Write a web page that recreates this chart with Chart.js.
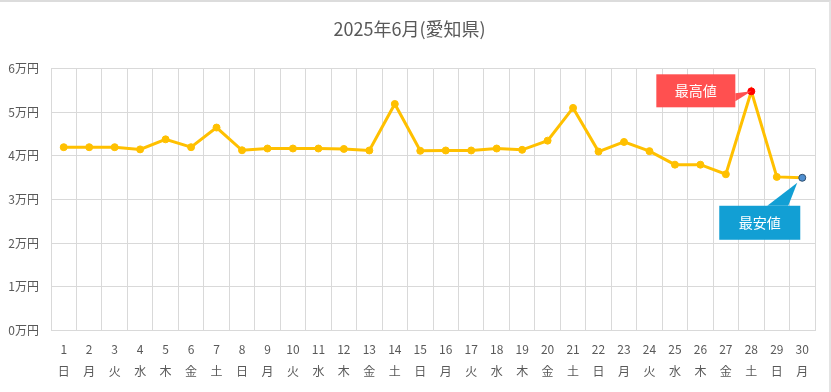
<!DOCTYPE html>
<html>
<head>
<meta charset="utf-8">
<script src="https://cdn.jsdelivr.net/npm/chart.js@4.4.1/dist/chart.umd.min.js"></script>
<style>
  html, body { margin: 0; padding: 0; background: #fff; }
  #wrap { position: relative; width: 831px; height: 392px; box-sizing: border-box; border-top: 2px solid #dcdcdc; border-right: 2px solid #e4e4e4; }
  canvas { display: block; }
</style>
</head>
<body>
<div id="wrap"><canvas id="priceChart" width="829" height="390"></canvas></div>
<script>
// 6月の日付・曜日・価格
const days = [1,2,3,4,5,6,7,8,9,10,11,12,13,14,15,16,17,18,19,20,21,22,23,24,25,26,27,28,29,30]
const weekdays = ["日","月","火","水","木","金","土","日","月","火","水","木","金","土","日","月","火","水","木","金","土","日","月","火","水","木","金","土","日","月"]
const prices = [42000,42000,42000,41500,43800,42000,46500,41300,41700,41700,41700,41600,41250,51900,41170,41250,41250,41700,41400,43500,51000,41000,43200,41100,38000,38000,35800,54800,35200,35000]
const yTicks = [0,10000,20000,30000,40000,50000,60000]

const FONT = "'Noto Sans CJK JP', 'Noto Sans', sans-serif"
const maxIdx = prices.indexOf(Math.max(...prices))
const minIdx = prices.indexOf(Math.min(...prices))

const pointBg = prices.map((v, i) => i === maxIdx ? "#ff0000" : i === minIdx ? "#4f8fd0" : "#ffc000")
const pointBorder = prices.map((v, i) => i === maxIdx ? "#ff0000" : i === minIdx ? "#2f4f6f" : "#ffc000")

// 最高値・最安値の吹き出し
const calloutPlugin = {
  id: "callout",
  afterDatasetsDraw(chart) {
    const ctx = chart.ctx
    const meta = chart.getDatasetMeta(0)
    const hi = meta.data[maxIdx]
    const lo = meta.data[minIdx]
    ctx.save()
    ctx.font = "14px " + FONT
    ctx.textAlign = "center"
    ctx.textBaseline = "middle"

    // 最高値 (左側に箱)
    let bx = hi.x - 95, by = hi.y - 17, bw = 79, bh = 33
    ctx.fillStyle = "#ff5050"
    ctx.beginPath()
    ctx.moveTo(bx + bw, by + 19)
    ctx.lineTo(hi.x, hi.y)
    ctx.lineTo(bx + bw, by + 27)
    ctx.closePath()
    ctx.fill()
    ctx.fillRect(bx, by, bw, bh)
    ctx.fillStyle = "#fff"
    ctx.fillText("最高値", bx + bw / 2, by + bh / 2)

    // 最安値 (下側に箱)
    bx = lo.x - 83; by = lo.y + 28; bw = 81; bh = 34
    ctx.fillStyle = "#129fd4"
    ctx.beginPath()
    ctx.moveTo(bx + 48, by)
    ctx.lineTo(lo.x - 5, lo.y + 5)
    ctx.lineTo(bx + 69, by)
    ctx.closePath()
    ctx.fill()
    ctx.fillRect(bx, by, bw, bh)
    ctx.fillStyle = "#fff"
    ctx.fillText("最安値", bx + bw / 2, by + bh / 2)
    ctx.restore()
  }
}

const ctx = document.getElementById("priceChart").getContext("2d")
new Chart(ctx, {
  type: "line",
  data: {
    labels: days.map((d, i) => [String(d), weekdays[i]]),
    datasets: [{
      data: prices,
      borderColor: "#ffc000",
      borderWidth: 3,
      pointRadius: 3.5,
      pointBackgroundColor: pointBg,
      pointBorderColor: pointBorder,
      pointBorderWidth: 1,
      tension: 0
    }]
  },
  options: {
    responsive: false,
    animation: false,
    layout: { padding: { left: 4, right: 14, top: 8, bottom: 1 } },
    plugins: {
      legend: { display: false },
      tooltip: { enabled: false },
      title: {
        display: true,
        text: "2025年6月(愛知県)",
        color: "#595959",
        font: { family: FONT, size: 18, weight: "normal" },
        padding: { top: 8, bottom: 29 }
      }
    },
    scales: {
      x: {
        offset: true,
        grid: { offset: true, color: "#d9d9d9", drawTicks: false },
        border: { color: "#d9d9d9" },
        ticks: {
          color: "#595959",
          font: { family: FONT, size: 12, lineHeight: 1.85 },
          padding: 8,
          maxRotation: 0,
          autoSkip: false
        }
      },
      y: {
        min: 0,
        max: 60000,
        afterBuildTicks(axis) { axis.ticks = yTicks.map(v => ({ value: v })) },
        afterFit(axis) { axis.width = 47 },
        grid: { color: "#d9d9d9", drawTicks: false },
        border: { color: "#d9d9d9" },
        ticks: {
          color: "#595959",
          font: { family: FONT, size: 12 },
          padding: 12,
          callback: v => (v / 10000) + "万円"
        }
      }
    }
  },
  plugins: [calloutPlugin]
})
</script>
</body>
</html>
